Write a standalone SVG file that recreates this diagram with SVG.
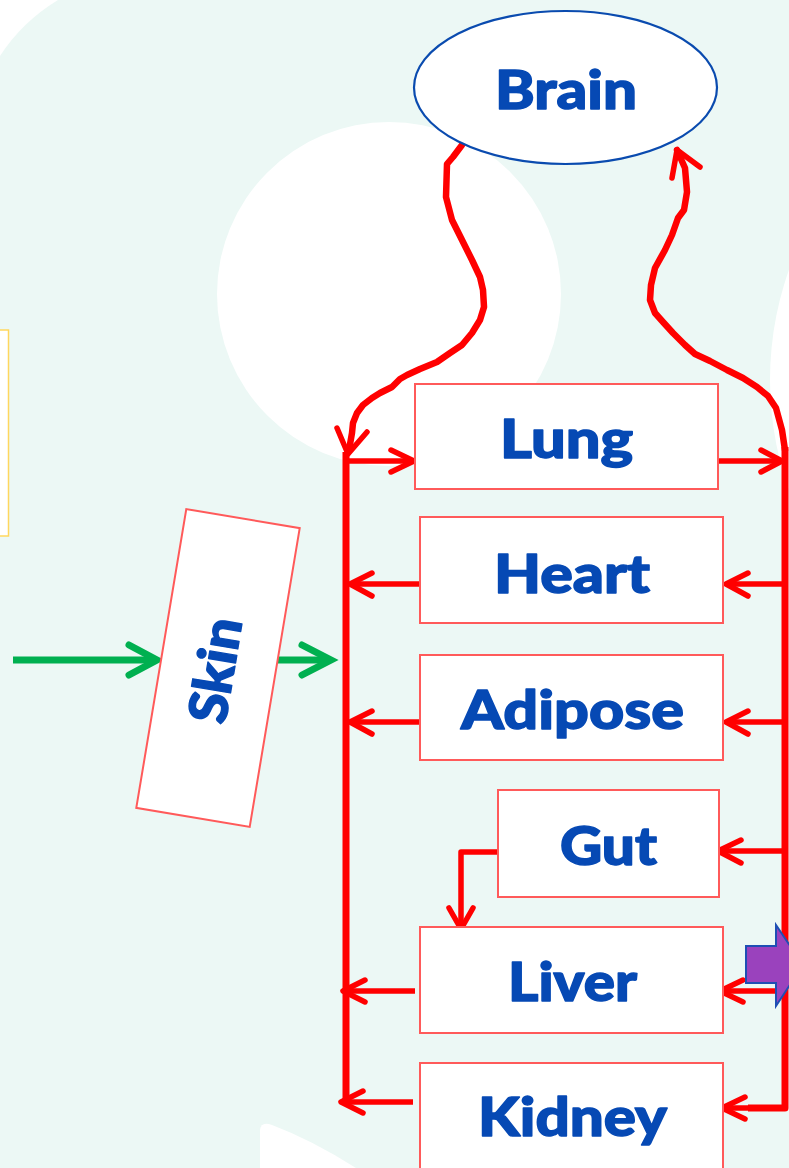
<svg xmlns="http://www.w3.org/2000/svg" width="789" height="1168" viewBox="0 0 789 1168">
  <style>
    .box { fill: #FFFFFF; stroke: #FF5A5A; stroke-width: 2; }
    .lbl { font-family: "Lato", "Open Sans", "Liberation Sans", sans-serif; font-weight: 900; font-size: 53px; fill: #0649B4; stroke: #0649B4; stroke-width: 1.4; stroke-linejoin: round; text-anchor: middle; }
    .trunk { fill: none; stroke: #FF0000; stroke-width: 7; stroke-linejoin: round; stroke-linecap: butt; }
    .branch { fill: none; stroke: #FF0000; stroke-width: 5.5; stroke-linejoin: round; stroke-linecap: butt; }
    .head { fill: none; stroke: #FF0000; stroke-width: 5.5; stroke-linejoin: round; stroke-linecap: round; }
    .curve { fill: none; stroke: #FF0000; stroke-width: 6.5; stroke-linejoin: round; stroke-linecap: round; }
    .green { fill: none; stroke: #00B050; stroke-width: 7; stroke-linejoin: round; stroke-linecap: butt; }
    .ghead { fill: none; stroke: #00B050; stroke-width: 7; stroke-linejoin: miter; stroke-linecap: round; }
  </style>

  <g id="background">
    <rect x="0" y="0" width="789" height="1168" fill="#ECF8F5"/>
    <path d="M0,0 L58,0 Q22,22 0,56 Z" fill="#FFFFFF"/>
    <circle cx="389" cy="294" r="172" fill="#FFFFFF"/>
    <circle cx="1100" cy="380" r="330" fill="#FFFFFF"/>
    <path d="M260,1168 L260,1130 Q261,1121 272,1125 Q312,1140 356,1168 Z" fill="#FFFFFF"/>
    <rect x="-2" y="330" width="10.5" height="206" fill="#FFFFFF" stroke="#FFD75E" stroke-width="1.5"/>
  </g>

  <g id="connectors">
    <!-- brain to left trunk -->
    <polyline class="curve" points="462,145 453,157 447,164 446,197 452,220 462,240 472,260 480,277 483,290 484,307 480,320 472,333 462,345 450,353 437,362 420,369 407,375 400,379 392,387 380,393 372,398 363,405 357,413 353,423 352,433 349,450"/>
    <polyline class="head" points="337,428 348,454 367,432"/>
    <!-- right trunk to brain -->
    <polyline class="curve" points="785,450 782,430 776,408 768,396 757,387 743,378 727,370 710,361 695,354 685,345 673,333 663,322 655,313 650,300 651,285 655,268 665,250 672,235 678,218 684,210 687,192 685,168 677,150"/>
    <polyline class="head" points="672,178 677,150 700,167"/>

    <!-- trunks -->
    <line class="trunk" x1="346" y1="452" x2="346" y2="1104"/>
    <polyline class="trunk" points="785,447 785,1108 748,1108"/>

    <!-- Lung -->
    <line class="branch" x1="349" y1="461" x2="413" y2="461"/>
    <polyline class="head" points="391,450 414,461 391,472"/>
    <line class="branch" x1="718" y1="461" x2="781" y2="461"/>
    <polyline class="head" points="761,450 782,461 761,472"/>

    <!-- Heart -->
    <line class="branch" x1="420" y1="584" x2="352" y2="584"/>
    <polyline class="head" points="372,573 350,584 372,596"/>
    <line class="branch" x1="783" y1="584" x2="727" y2="584"/>
    <polyline class="head" points="748,573 726,584 748,596"/>

    <!-- Adipose -->
    <line class="branch" x1="420" y1="722" x2="352" y2="722"/>
    <polyline class="head" points="372,711 350,722 372,734"/>
    <line class="branch" x1="783" y1="722" x2="727" y2="722"/>
    <polyline class="head" points="748,711 726,722 748,734"/>

    <!-- Gut -->
    <line class="branch" x1="783" y1="851" x2="719" y2="851"/>
    <polyline class="head" points="741,840 718,851 741,863"/>
    <polyline class="branch" points="498,852 461,852 461,926"/>
    <polyline class="head" points="449,908 461,929 473,908"/>

    <!-- Liver -->
    <line class="branch" x1="415" y1="991" x2="345" y2="991"/>
    <polyline class="head" points="365,980 343,991 365,1002"/>
    <line class="branch" x1="783" y1="991" x2="722" y2="991"/>
    <polyline class="head" points="743,980 720,991 743,1002"/>

    <!-- Kidney -->
    <line class="branch" x1="413" y1="1102" x2="343" y2="1102"/>
    <polyline class="head" points="363,1091 341,1102 363,1113"/>
    <line class="branch" x1="783" y1="1108" x2="724" y2="1108"/>
    <polyline class="head" points="745,1097 722,1108 745,1119"/>

    <!-- Skin green arrows -->
    <line class="green" x1="13" y1="660" x2="156" y2="660"/>
    <polyline class="ghead" points="129,645 157,660 129,675"/>
    <line class="green" x1="277" y1="660" x2="329" y2="660"/>
    <polyline class="ghead" points="302,645 331,660 302,675"/>
  </g>

  <g id="brain">
    <ellipse cx="565.5" cy="87.5" rx="151.5" ry="76.5" fill="#FFFFFF" stroke="#0A4BAF" stroke-width="2.2"/>
    <text class="lbl" x="566" y="109" textLength="142" lengthAdjust="spacingAndGlyphs">Brain</text>
  </g>

  <g id="lung">
    <rect class="box" x="415" y="384" width="303" height="105"/>
    <text class="lbl" x="566.5" y="458" textLength="133" lengthAdjust="spacingAndGlyphs">Lung</text>
  </g>

  <g id="heart">
    <rect class="box" x="420" y="517" width="303" height="106"/>
    <text class="lbl" x="572" y="593" textLength="156" lengthAdjust="spacingAndGlyphs">Heart</text>
  </g>

  <g id="adipose">
    <rect class="box" x="420" y="655" width="303" height="105"/>
    <text class="lbl" x="572.5" y="729" textLength="223" lengthAdjust="spacingAndGlyphs">Adipose</text>
  </g>

  <g id="gut">
    <rect class="box" x="498" y="790" width="221" height="107"/>
    <text class="lbl" x="608.5" y="865" textLength="97" lengthAdjust="spacingAndGlyphs">Gut</text>
  </g>

  <g id="liver">
    <rect class="box" x="420" y="927" width="303" height="106"/>
    <text class="lbl" x="572.5" y="1001" textLength="129" lengthAdjust="spacingAndGlyphs">Liver</text>
    <path d="M746,946 L776,946 L776,925 L803,965 L776,1006 L776,983 L746,983 Z" fill="#9A42BD" stroke="#1E4FB4" stroke-width="2"/>
  </g>

  <g id="kidney">
    <rect class="box" x="420" y="1063" width="303" height="120"/>
    <text class="lbl" x="572.5" y="1136" textLength="189" lengthAdjust="spacingAndGlyphs">Kidney</text>
  </g>

  <g id="skin">
    <rect class="box" x="160.5" y="516.5" width="115" height="303" transform="rotate(9.5 218 668)"/>
    <text class="lbl" x="0" y="20" font-size="56" textLength="106" lengthAdjust="spacingAndGlyphs" transform="translate(214 670) rotate(-80.5)">Skin</text>
  </g>
</svg>
